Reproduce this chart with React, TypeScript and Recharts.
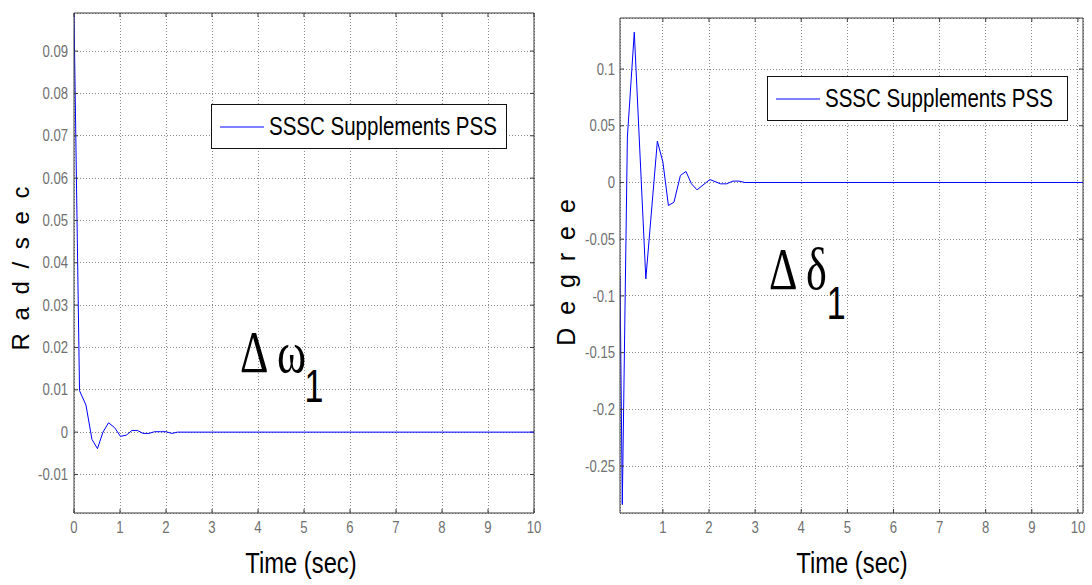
import React from 'react';
import { LineChart, Line, XAxis, YAxis, CartesianGrid, Legend, ReferenceLine } from 'recharts';

const SERIES_NAME = 'SSSC Supplements PSS';

// speed deviation of generator 1 (rad/sec)
const omegaTime = [0, 0.12, 0.26, 0.39, 0.51, 0.63, 0.75, 0.88, 1.01, 1.14, 1.26, 1.38, 1.5, 1.63, 1.75, 1.88, 2.0, 2.13, 2.25, 10];
const omegaValue = [0.099, 0.0098, 0.0064, -0.0017, -0.0039, 0, 0.0022, 0.0011, -0.001, -0.0007, 0.0004, 0.0004, -0.0003, -0.0003, 0.0001, 0.0001, 0.0001, -0.0003, 0, 0];
const omegaXTicks = [0, 1, 2, 3, 4, 5, 6, 7, 8, 9, 10];
const omegaYTicks = [-0.01, 0, 0.01, 0.02, 0.03, 0.04, 0.05, 0.06, 0.07, 0.08, 0.09];

// rotor angle deviation of generator 1 (degree)
const deltaTime = [0.07, 0.12, 0.23, 0.38, 0.63, 0.88, 1.0, 1.12, 1.24, 1.38, 1.5, 1.62, 1.74, 2.02, 2.25, 2.38, 2.52, 2.65, 2.78, 10.11];
const deltaValue = [-0.082, -0.284, 0.04, 0.1325, -0.085, 0.0364, 0.018, -0.0203, -0.0174, 0.0062, 0.0097, -0.0012, -0.0065, 0.0026, -0.0012, -0.0012, 0.0012, 0.0012, 0, 0];
const deltaXTicks = [1, 2, 3, 4, 5, 6, 7, 8, 9, 10];
const deltaYTicks = [-0.25, -0.2, -0.15, -0.1, -0.05, 0, 0.05, 0.1];

const SANS = '"Liberation Sans", Arial, sans-serif';
const SERIF = '"Liberation Serif", "Times New Roman", serif';
const NARROW_SCALE = 0.82; // squeeze Liberation Sans to an Arial Narrow look
const AXIS = '#3a3a3a';
const GRID = '#8c8c8c';
const TICK_TEXT = '#707070';
const TICK_PX = 4;

const toRows = (ts: number[], vs: number[]) => ts.map((t, i) => ({ t, v: vs[i] }));

// tick label drawn with a horizontally condensed font
const NarrowTick = ({ x, y, payload, textAnchor, verticalAnchor }: any) => {
  const dy = verticalAnchor === 'start' ? '0.71em' : verticalAnchor === 'end' ? '0' : '0.355em';
  return (
    <g transform={`translate(${x},${y}) scale(${NARROW_SCALE},1)`}>
      <text x={0} y={0} dy={dy} textAnchor={textAnchor} fontFamily={SANS} fontSize={16} fill={TICK_TEXT}>
        {payload.value}
      </text>
    </g>
  );
};

const LegendBox = ({ payload, boxWidth, boxHeight }: any) => {
  const item = payload && payload[0];
  return (
    <div
      style={{
        width: boxWidth,
        height: boxHeight,
        boxSizing: 'border-box',
        border: '1.5px solid #111',
        background: '#fff',
        display: 'flex',
        alignItems: 'center',
        color: '#000',
        whiteSpace: 'nowrap',
        overflow: 'hidden',
      }}
    >
      <svg width={53} height={10} style={{ flex: 'none' }}>
        <line x1={8} x2={52} y1={5} y2={5} stroke={item ? item.color : '#0000ff'} strokeWidth={1} />
      </svg>
      <span
        style={{
          display: 'inline-block',
          marginLeft: 4,
          fontFamily: SANS,
          fontSize: 25,
          transform: `scaleX(${NARROW_SCALE})`,
          transformOrigin: 'left center',
        }}
      >
        {item ? item.value : SERIES_NAME}
      </span>
    </div>
  );
};

// "Δ x₁" label: symbol font look is approximated by stretching a serif face
const DeltaLabel = ({ x, y, symbol, subX }: { x: number; y: number; symbol: string; subX: number }) => (
  <g transform={`translate(${x} ${y}) scale(0.85 1.15)`}>
    <text x={0} y={0} fontFamily={SERIF} fontSize={52} fill="#000">
      {`Δ ${symbol}`}
      <tspan x={subX} y={26} fontFamily={SANS} fontSize={40}>1</tspan>
    </text>
  </g>
);

type PanelProps = {
  left: number;
  width: number;
  margin: { top: number; right: number; bottom: number; left: number };
  rows: { t: number; v: number }[];
  xDomain: [number, number];
  yDomain: [number, number];
  xTicks: number[];
  yTicks: number[];
  legendPos: { left: number; top: number; w: number; h: number };
  yTickMargin: number;
};

const Panel = ({ left, width, margin, rows, xDomain, yDomain, xTicks, yTicks, legendPos, yTickMargin }: PanelProps) => {
  const height = 585;
  const plotW = width - margin.left - margin.right - 60;
  const plotH = height - margin.top - margin.bottom - 30;
  // inward tick length on the top and right edges, in data units
  const dy = ((yDomain[1] - yDomain[0]) / plotH) * TICK_PX;
  const dx = ((xDomain[1] - xDomain[0]) / plotW) * TICK_PX;

  return (
    <div style={{ position: 'absolute', left, top: 0 }}>
      <LineChart width={width} height={height} data={rows} margin={margin}>
        <CartesianGrid stroke={GRID} strokeDasharray="1 2" shapeRendering="crispEdges" />
        <XAxis
          dataKey="t"
          type="number"
          domain={xDomain}
          ticks={xTicks}
          allowDataOverflow
          height={30}
          stroke={AXIS}
          tickSize={-TICK_PX}
          tickMargin={13}
          tick={<NarrowTick />}
          interval={0}
        />
        <YAxis
          dataKey="v"
          type="number"
          domain={yDomain}
          ticks={yTicks}
          allowDataOverflow
          width={60}
          stroke={AXIS}
          tickSize={-TICK_PX}
          tickMargin={yTickMargin}
          tick={<NarrowTick />}
          interval={0}
        />
        {/* box edges on the top and right, with their inward ticks */}
        <ReferenceLine y={yDomain[1]} stroke={AXIS} strokeWidth={1} />
        <ReferenceLine x={xDomain[1]} stroke={AXIS} strokeWidth={1} />
        {xTicks.map((t) => (
          <ReferenceLine
            key={`tx${t}`}
            segment={[{ x: t, y: yDomain[1] }, { x: t, y: yDomain[1] - dy }]}
            stroke={AXIS}
            strokeWidth={1}
          />
        ))}
        {yTicks.map((v) => (
          <ReferenceLine
            key={`ty${v}`}
            segment={[{ x: xDomain[1], y: v }, { x: xDomain[1] - dx, y: v }]}
            stroke={AXIS}
            strokeWidth={1}
          />
        ))}
        <Legend
          layout="vertical"
          align="center"
          verticalAlign="middle"
          wrapperStyle={{ left: legendPos.left, top: legendPos.top, width: 'auto', height: 'auto' }}
          content={(p: any) => <LegendBox payload={p.payload} boxWidth={legendPos.w} boxHeight={legendPos.h} />}
        />
        <Line
          type="linear"
          dataKey="v"
          name={SERIES_NAME}
          stroke="#0000ff"
          strokeWidth={1}
          dot={false}
          isAnimationActive={false}
        />
      </LineChart>
    </div>
  );
};

export default function App() {
  const omegaRows = toRows(omegaTime, omegaValue);
  const deltaRows = toRows(deltaTime, deltaValue);

  return (
    <div style={{ position: 'absolute', left: 0, top: 0, width: 1092, height: 585, background: '#fff', overflow: 'hidden' }}>
      <Panel
        left={0}
        width={548}
        margin={{ top: 13, right: 14, bottom: 42, left: 14 }}
        rows={omegaRows}
        xDomain={[0, 10]}
        yDomain={[-0.0191, 0.099]}
        xTicks={omegaXTicks}
        yTicks={omegaYTicks}
        legendPos={{ left: 211, top: 104, w: 296, h: 45 }}
        yTickMargin={10}
      />
      <Panel
        left={548}
        width={544}
        margin={{ top: 18, right: 9, bottom: 42, left: 12 }}
        rows={deltaRows}
        xDomain={[0.07, 10.11]}
        yDomain={[-0.2914, 0.145]}
        xTicks={deltaXTicks}
        yTicks={deltaYTicks}
        legendPos={{ left: 219, top: 76, w: 301, h: 45 }}
        yTickMargin={9}
      />
      <svg width={1092} height={585} style={{ position: 'absolute', left: 0, top: 0, pointerEvents: 'none' }}>
        {/* axis titles */}
        <text x={0} y={0} transform="translate(29 267) rotate(-90)" textAnchor="middle" fontFamily={SANS} fontSize={24} letterSpacing={3} fill="#000">
          R a d / s e c
        </text>
        <text x={0} y={0} transform="translate(575 271) rotate(-90)" textAnchor="middle" fontFamily={SANS} fontSize={25} letterSpacing={3} fill="#000">
          D e g r e e
        </text>
        <g transform={`translate(301 573) scale(${NARROW_SCALE},1)`}>
          <text x={0} y={0} textAnchor="middle" fontFamily={SANS} fontSize={29} fill="#000">
            Time (sec)
          </text>
        </g>
        <g transform={`translate(852 573) scale(${NARROW_SCALE},1)`}>
          <text x={0} y={0} textAnchor="middle" fontFamily={SANS} fontSize={29} fill="#000">
            Time (sec)
          </text>
        </g>
        {/* signal annotations */}
        <DeltaLabel x={240} y={372} symbol="ω" subX={76} />
        <DeltaLabel x={769} y={289} symbol="δ" subX={68} />
      </svg>
    </div>
  );
}
